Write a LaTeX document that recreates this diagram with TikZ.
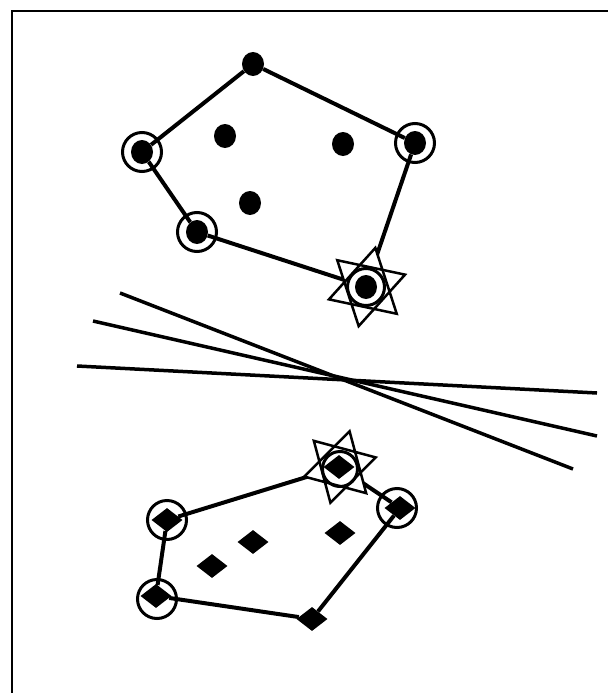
\documentclass[tikz,border=0pt]{standalone}
\usetikzlibrary{shapes.geometric,backgrounds}
\tikzset{
  dot/.style={ellipse, fill=black, inner sep=0pt, minimum width=22pt, minimum height=24pt},
  gem/.style={diamond, fill=black, inner sep=0pt, minimum width=31pt, minimum height=24pt},
  ring/.style={circle, draw=black, line width=3pt, inner sep=0pt, minimum size=37pt},
  tri/.style={regular polygon, regular polygon sides=3, draw=black, line width=2.5pt, inner sep=0pt, minimum size=80pt},
  trifill/.style={tri, draw=none, fill=white},
  hull/.style={line width=4pt},
  cut/.style={line width=3.5pt},
  frame/.style={line width=2pt}
}

\begin{document}
\begin{tikzpicture}[x=1pt,y=-1pt]
  \useasboundingbox (0,0) rectangle (608,693);
  \draw[frame] (12,693) -- (12,11) -- (608,11);

  % upper class (dots)
  \node[trifill,rotate=-12] at (367,287) {};
  \node[trifill,rotate=48] at (367,287) {};
  \node[tri,rotate=-12] (tsa) at (367,287) {};
  \node[tri,rotate=48] (tsb) at (367,287) {};
  \node[dot] (ta) at (253,64) {};
  \node[dot] (tb) at (142,152) {};
  \node[dot] (tc) at (197,232) {};
  \node[dot] (td) at (366,287) {};
  \node[dot] (te) at (415,143) {};
  \node[dot] (ti1) at (225,136) {};
  \node[dot] (ti2) at (343,144) {};
  \node[dot] (ti3) at (250,203) {};
  \node[ring,minimum size=39pt] (rtb) at (tb) {};
  \node[ring,minimum size=39pt] (rtc) at (tc) {};
  \node[ring] (rtd) at (td) {};
  \node[ring,minimum size=39pt] (rte) at (te) {};
  \begin{scope}[on background layer]
    \draw[hull] (ta) -- (te) -- (td) -- (tc) -- (tb) -- (ta);
  \end{scope}

  % separating lines
  \coordinate (l1s) at (120,293); \coordinate (l1e) at (573,469);
  \coordinate (l2s) at (93,321);  \coordinate (l2e) at (597,436);
  \coordinate (l3s) at (77,366);  \coordinate (l3e) at (597,393);
  \draw[cut] (l1s) -- (l1e);
  \draw[cut] (l2s) -- (l2e);
  \draw[cut] (l3s) -- (l3e);

  % lower class (diamonds)
  \node[trifill,rotate=-15,minimum size=74pt] at (340,467) {};
  \node[trifill,rotate=45,minimum size=74pt] at (340,467) {};
  \node[tri,rotate=-15,minimum size=74pt] (bsa) at (340,467) {};
  \node[tri,rotate=45,minimum size=74pt] (bsb) at (340,467) {};
  \node[gem] (ba) at (167,520) {};
  \node[gem] (bb) at (339,467) {};
  \node[gem] (bc) at (400,508) {};
  \node[gem] (bd) at (312,619) {};
  \node[gem] (be) at (156,596) {};
  \node[gem] (bi1) at (253,542) {};
  \node[gem] (bi2) at (212,566) {};
  \node[gem] (bi3) at (340,533) {};
  \node[ring,minimum size=39pt] (rba) at (ba) {};
  \node[ring,minimum size=35pt] (rbb) at (340,469) {};
  \node[ring,minimum size=39pt] (rbc) at (397,508) {};
  \node[ring,minimum size=39pt] (rbe) at (157,599) {};
  \begin{scope}[on background layer]
    \draw[hull] (ba) -- (bb) -- (bc) -- (bd) -- (be) -- (ba);
  \end{scope}
\end{tikzpicture}
\end{document}
